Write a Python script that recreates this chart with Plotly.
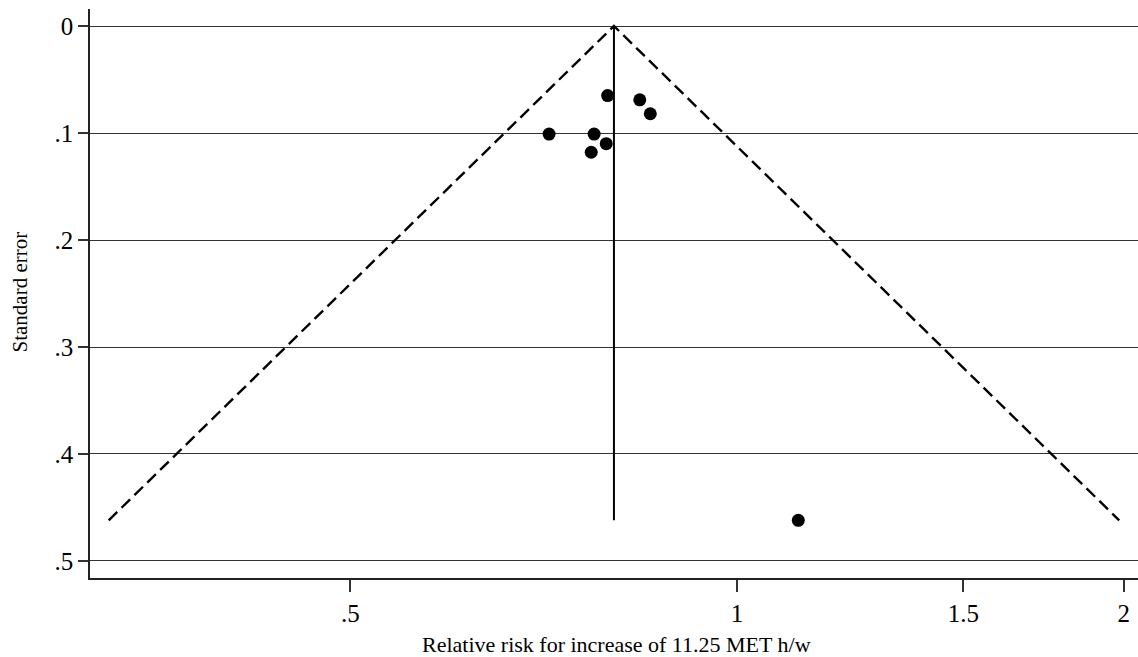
import numpy as np
import plotly.graph_objects as go

# Study estimates: relative risk and its standard error
rr = [0.714, 0.774, 0.793, 0.840, 0.856, 0.770, 0.791, 1.116]
se = [0.101, 0.101, 0.065, 0.069, 0.082, 0.118, 0.110, 0.462]

# Pooled (fixed-effect) estimate and the largest standard error
pooled_rr = 0.802
max_se = 0.462

y_ticks = [0, 0.1, 0.2, 0.3, 0.4, 0.5]
y_tick_text = ["0", ".1", ".2", ".3", ".4", ".5"]
x_ticks = [0.5, 1, 1.5, 2]
x_tick_text = [".5", "1", "1.5", "2"]

# 95% pseudo-confidence limits of the funnel
lo = float(np.exp(np.log(pooled_rr) - 1.96 * max_se))
hi = float(np.exp(np.log(pooled_rr) + 1.96 * max_se))

font = "Liberation Serif"
fig = go.Figure()

fig.add_trace(go.Scatter(
    x=[lo, pooled_rr, hi], y=[max_se, 0, max_se], mode="lines",
    line=dict(color="black", width=2.4, dash="12px,6px"), hoverinfo="skip"))
fig.add_trace(go.Scatter(
    x=[pooled_rr, pooled_rr], y=[0, max_se], mode="lines",
    line=dict(color="black", width=2), hoverinfo="skip"))
fig.add_trace(go.Scatter(
    x=rr, y=se, mode="markers",
    marker=dict(color="black", size=13, line=dict(width=0))))

fig.update_layout(
    width=1138, height=657,
    margin=dict(l=90, r=0, t=9, b=79),
    paper_bgcolor="white", plot_bgcolor="white",
    showlegend=False,
    font=dict(family=font, color="black"),
)
fig.update_xaxes(
    type="log", range=[np.log10(0.3136), np.log10(2.0515)],
    tickvals=x_ticks, ticktext=x_tick_text,
    tickfont=dict(size=25, family=font),
    ticks="outside", ticklen=12, tickwidth=1.5, tickcolor="#333",
    showgrid=False, zeroline=False,
    showline=True, linecolor="#222", linewidth=1.5,
)
fig.update_yaxes(
    range=[0.5159, -0.0159],
    tickvals=y_ticks, ticktext=y_tick_text,
    tickfont=dict(size=25, family=font),
    ticks="outside", ticklen=10, tickwidth=1.5, tickcolor="#333",
    showgrid=True, gridcolor="#333", gridwidth=1.3, zeroline=False,
    showline=True, linecolor="#222", linewidth=1.5,
)

fig.add_annotation(
    text="Relative risk for increase of 11.25 MET h/w",
    xref="paper", yref="paper", x=0.5, y=0, yanchor="middle",
    xshift=2, yshift=-66, showarrow=False, font=dict(size=22, family=font))
fig.add_annotation(
    text="Standard error", textangle=-90,
    xref="paper", yref="paper", x=0, y=0.5, xanchor="center",
    xshift=-71, yshift=1, showarrow=False, font=dict(size=21, family=font))

fig.write_html("out.html")
